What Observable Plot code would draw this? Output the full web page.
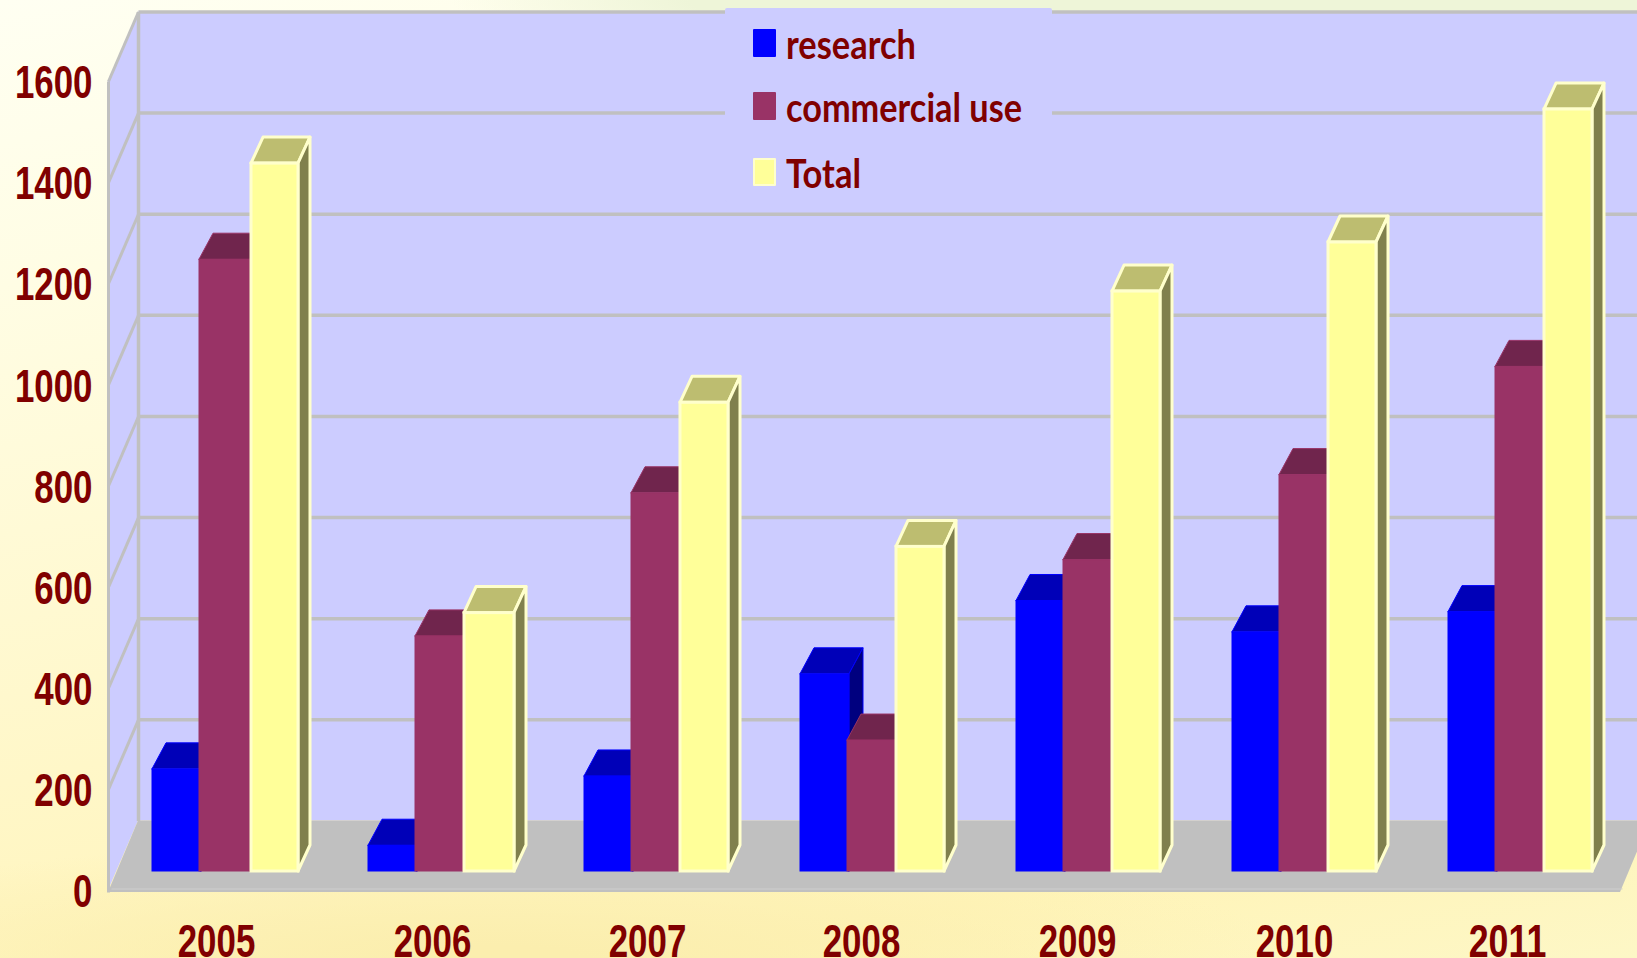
<!DOCTYPE html>
<html>
<head>
<meta charset="utf-8">
<script src="https://cdn.jsdelivr.net/npm/d3@7"></script>
<script src="https://cdn.jsdelivr.net/npm/@observablehq/plot@0.6"></script>
<style>
html,body{margin:0;padding:0;width:1637px;height:958px;overflow:hidden}
body{position:relative;background:
  radial-gradient(800px 70px at 1250px 0, #eef5d8 70%, rgba(238,245,216,0) 100%),
  radial-gradient(800px 120px at 500px 958px, #fbeeae 10%, rgba(251,238,174,0) 100%),
  linear-gradient(168deg,#fffff2 0%,#fffde4 22%,#fff7c8 60%,#fff4b8 85%,#fdf7c6 100%)}
#legend{position:absolute;left:725px;top:8px;width:327px;height:194px;background:#ccccff;border-radius:2px}
#legend div{position:absolute;left:28px;width:23px;height:28px;border-radius:1px;box-sizing:border-box}
#legend svg{position:absolute;left:0;top:0}
#legend text{fill:#800000;font:bold 41px Lato,"Liberation Sans",sans-serif}
</style>
</head>
<body>
<div id="chart"></div>
<div id="legend">
  <div style="top:21px;background:#0000ff"></div>
  <div style="top:84px;background:#993366"></div>
  <div style="top:150px;background:#ffff99;border:2px solid #ffffcc"></div>
  <svg width="327" height="194">
    <text x="61" y="51" textLength="130" lengthAdjust="spacingAndGlyphs">research</text>
    <text x="61" y="114" textLength="236" lengthAdjust="spacingAndGlyphs">commercial use</text>
    <text x="61" y="180" textLength="75" lengthAdjust="spacingAndGlyphs">Total</text>
  </svg>
</div>
<script>
const years = [2005, 2006, 2007, 2008, 2009, 2010, 2011];
const research = [202, 51, 188, 390, 535, 473, 513];
const commercial = [1210, 465, 748, 259, 616, 784, 998];
const total = [1400, 511, 927, 642, 1147, 1244, 1507];
const yTicks = [0, 200, 400, 600, 800, 1000, 1200, 1400, 1600];

// Scale geometry: one year = 216px, one value unit = 0.5056px
const pxX = 1 / 216, pxY = 1 / 0.5056;
const x0 = 2004.5, x1 = 2011.5, yMax = 1600;
const wallDX = 30 * pxX, wallDY = 69.5 * pxY;     // depth of the chart box
const floorDY = 19 * pxY;                         // bar base above the front edge
const floorLip = -4;                              // floor slab below value 0
const barDY = 26 * pxY;                           // depth of each bar

// A parallelogram as two area rows (x1,y1)-(x2,y2)
const quad = (id, a, b, c, d) => [
  {id, x1: a[0], y1: a[1], x2: b[0], y2: b[1]},
  {id, x1: d[0], y1: d[1], x2: c[0], y2: c[1]}
];
const area = (rows, o) => Plot.area(rows, {x1: "x1", y1: "y1", x2: "x2", y2: "y2", z: "id", curve: "linear", ...o});

const series = [
  {values: research,   dx: 14, l: () => -64, r: () => -15,              front: "#0000ff", edge: "#0000ff", top: "#0000b8", side: "#00007f", sw: 1},
  {values: commercial, dx: 14, l: () => -17, r: i => i === 0 ? 34 : 31, front: "#993366", edge: "#993366", top: "#70254d", side: "#5c1f40", sw: 1},
  {values: total,      dx: 12, l: i => i === 0 ? 35 : 32, r: i => i < 2 ? 82 : 80, front: "#ffff99", edge: "#ffffcc", top: "#bdbd70", side: "#80804d", sw: 3}
];

const barMarks = series.flatMap(s => {
  const barDX = s.dx * pxX;
  const bars = s.values.map((v, i) => ({
    year: years[i],
    left: years[i] + s.l(i) * pxX,
    right: years[i] + s.r(i) * pxX,
    base: floorDY,
    top: v + floorDY
  }));
  const tops = bars.flatMap((b, i) => quad(i,
    [b.left, b.top], [b.right, b.top],
    [b.right + barDX, b.top + barDY], [b.left + barDX, b.top + barDY]));
  const sides = bars.flatMap((b, i) => quad(i,
    [b.right, b.top], [b.right, b.base],
    [b.right + barDX, b.base + barDY], [b.right + barDX, b.top + barDY]));
  return [
    area(tops, {fill: s.top, stroke: s.edge, strokeWidth: s.sw}),
    area(sides, {fill: s.side, stroke: s.edge, strokeWidth: s.sw}),
    Plot.rect(bars, {x1: "left", x2: "right", y1: "base", y2: "top", fill: s.front, stroke: s.edge, strokeWidth: s.sw})
  ];
});

const grey = "#c0c0c0";
const plot = Plot.plot({
  width: 1637, height: 958,
  marginLeft: 108, marginRight: 17, marginTop: 81, marginBottom: 68,
  style: {background: "transparent", fontFamily: "'Liberation Sans',sans-serif"},
  x: {type: "linear", domain: [x0, x1], range: [108, 1620], label: null},
  y: {domain: [0, yMax], range: [890, 81], label: null},
  marks: [
    // back wall, left wall, floor
    Plot.rect([{}], {x1: x0 + wallDX, x2: x1 + wallDX, y1: wallDY, y2: yMax + wallDY, fill: "#ccccff"}),
    area(quad(0, [x0, 0], [x0, yMax], [x0 + wallDX, yMax + wallDY], [x0 + wallDX, wallDY]), {fill: "#ccccff"}),
    // gridlines on the back and left walls
    Plot.link(yTicks.filter(v => v > 0), {x1: x0 + wallDX, x2: x1 + wallDX, y1: v => v + wallDY, y2: v => v + wallDY, stroke: grey, strokeWidth: 3.5}),
    Plot.link(yTicks.filter(v => v > 0), {x1: x0, x2: x0 + wallDX, y1: v => v, y2: v => v + wallDY, stroke: grey, strokeWidth: 3}),
    Plot.link([0], {x1: x0 + wallDX, x2: x0 + wallDX, y1: wallDY, y2: yMax + wallDY, stroke: grey, strokeWidth: 3.5}),
    Plot.link([0], {x1: x0, x2: x0, y1: floorLip, y2: yMax, stroke: grey, strokeWidth: 3}),
    area(quad(0, [x0, floorLip], [x1, floorLip], [x1 + wallDX, wallDY], [x0 + wallDX, wallDY]), {fill: grey}),
    Plot.link([0], {x1: x0 + 3 * pxX, x2: x1 + 2 * pxX, y1: 3, y2: 3, stroke: "#cfcfcf", strokeWidth: 1}),
    ...barMarks,
    Plot.axisY({ticks: yTicks, tickSize: 0, tickPadding: 16, tickFormat: String, dy: 2, fontSize: 46, fontWeight: "bold", fill: "#800000", stroke: "#800000", strokeWidth: 0.5, label: null}),
    Plot.axisX({ticks: years, tickSize: 0, tickPadding: 34, tickFormat: String, fontSize: 46, fontWeight: "bold", fill: "#800000", stroke: "#800000", strokeWidth: 0.5, label: null})
  ]
});
// The reference's tick labels are condensed: fit each to its width per digit.
d3.select(plot).selectAll('[aria-label$="tick label"] text').each(function() {
  this.setAttribute("textLength", 19.4 * this.textContent.length);
  this.setAttribute("lengthAdjust", "spacingAndGlyphs");
});
// Year labels in the reference sit slightly tighter than the category spacing.
const yearNudge = [0, 0, -1, -3, -3, -2, -5];
d3.select(plot).selectAll('[aria-label="x-axis tick label"] text').each(function(_, i) {
  this.setAttribute("dx", yearNudge[i]);
});
document.getElementById("chart").append(plot);
</script>
</body>
</html>
